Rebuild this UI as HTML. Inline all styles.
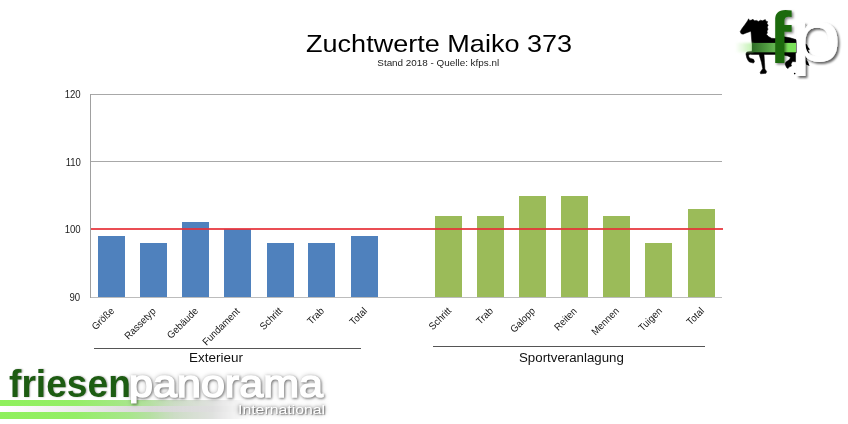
<!DOCTYPE html>
<html lang="de">
<head>
<meta charset="utf-8">
<title>Zuchtwerte Maiko 373</title>
<style>
html,body{margin:0;padding:0;background:#fff;}
body{width:848px;height:424px;position:relative;overflow:hidden;font-family:"Liberation Sans",sans-serif;color:#000;}
div,span{position:absolute;white-space:nowrap;line-height:1;}
.grid{left:90px;width:632px;height:1px;background:#a8a8a8;}
.axis{left:90px;top:94px;width:1px;height:204px;background:#a0a0a0;}
.red{left:91px;top:228px;width:632px;height:2px;background:rgba(230,48,56,.86);}
.yl{left:40px;width:40.5px;text-align:right;font-size:10px;color:#1c1c1c;}
.yl span{position:static;display:inline-block;transform:scaleX(.96);transform-origin:right center;}
.xl{width:100px;height:12px;text-align:right;font-size:10px;color:#151515;transform:rotate(-45deg);transform-origin:right top;}
.xl span{position:static;display:inline-block;transform:scaleX(.95);transform-origin:right center;}
.title{left:305.5px;top:32.3px;font-size:24.6px;transform:scaleX(1.1);transform-origin:left top;}
.sub{left:377.3px;top:57.6px;font-size:9.9px;color:#222;transform:scaleX(1.0);transform-origin:left top;}
.gl{height:1px;background:#555;}
.gt{font-size:12.3px;color:#111;transform:scaleX(1.096);transform-origin:left top;}
.lbar{left:0;top:400px;width:250px;height:19px;-webkit-mask-image:linear-gradient(90deg,#000 0,#000 60%,rgba(0,0,0,.7) 85%,transparent 100%);mask-image:linear-gradient(90deg,#000 0,#000 60%,rgba(0,0,0,.7) 85%,transparent 100%);}
.lbar i{position:absolute;left:0;width:250px;height:6px;}
.lbar .b1{top:0;background:linear-gradient(90deg,#8ff05c 0,#94ee66 30%,#a8e68c 52%,#c6d8be 70%,#d4d4d4 88%);}
.lbar .b2{top:6px;background:linear-gradient(90deg,#fff 0,#ececec 30%,#d8d8d8 60%,#d0d0d0 85%);}
.lbar .b3{top:12px;height:6.5px;background:linear-gradient(90deg,#8ff05c 0,#94ee66 30%,#a8e68c 52%,#c6d8be 70%,#d4d4d4 88%);box-shadow:0 1px 1px rgba(0,0,0,.25);}
.lfr{left:9.2px;top:364px;font-size:42px;font-weight:bold;color:#1d5c12;transform:scale(.885,.93);transform-origin:left top;text-shadow:1px 1px 2px rgba(0,0,0,.35);}
.lpaw{left:0;top:0;width:848px;height:424px;filter:drop-shadow(1.5px 1.5px 1.2px rgba(0,0,0,.42)) drop-shadow(0 0 2px rgba(0,0,0,.25));}
.lpa{left:129.3px;top:364.2px;font-size:42px;color:#fff;-webkit-text-stroke:1.7px #fff;transform:scale(1.026,.94);transform-origin:left top;clip-path:inset(-5px -5px 0.1px -5px);}
.lin{left:237.6px;top:403.3px;font-size:13.2px;color:#fff;transform:scaleX(1.2);transform-origin:left top;text-shadow:1px 1px 1px rgba(0,0,0,.35),0 0 5px rgba(0,0,0,.5),0 0 3px rgba(0,0,0,.4);}
.horse{position:absolute;left:728px;top:0;}
.horse text{font-family:"Liberation Sans",sans-serif;}
</style>
</head>
<body>
<div class="title">Zuchtwerte Maiko 373</div>
<div class="sub">Stand 2018 - Quelle: kfps.nl</div>

<div class="grid" style="top:94px"></div>
<div class="grid" style="top:161px"></div>
<div class="grid" style="top:297px;background:#bcbcbc"></div>
<div class="axis"></div>
<div class="bar" style="left:98px;top:236px;width:27px;height:61px;background:#4f81bd"></div>
<div class="bar" style="left:140px;top:243px;width:27px;height:54px;background:#4f81bd"></div>
<div class="bar" style="left:182px;top:222px;width:27px;height:75px;background:#4f81bd"></div>
<div class="bar" style="left:224px;top:229px;width:27px;height:68px;background:#4f81bd"></div>
<div class="bar" style="left:267px;top:243px;width:27px;height:54px;background:#4f81bd"></div>
<div class="bar" style="left:308px;top:243px;width:27px;height:54px;background:#4f81bd"></div>
<div class="bar" style="left:351px;top:236px;width:27px;height:61px;background:#4f81bd"></div>
<div class="bar" style="left:435px;top:216px;width:27px;height:81px;background:#9bbb59"></div>
<div class="bar" style="left:477px;top:216px;width:27px;height:81px;background:#9bbb59"></div>
<div class="bar" style="left:519px;top:196px;width:27px;height:101px;background:#9bbb59"></div>
<div class="bar" style="left:561px;top:196px;width:27px;height:101px;background:#9bbb59"></div>
<div class="bar" style="left:603px;top:216px;width:27px;height:81px;background:#9bbb59"></div>
<div class="bar" style="left:645px;top:243px;width:27px;height:54px;background:#9bbb59"></div>
<div class="bar" style="left:688px;top:209px;width:27px;height:88px;background:#9bbb59"></div>
<div class="red"></div>

<div class="yl" style="top:90.4px"><span>120</span></div>
<div class="yl" style="top:157.5px"><span>110</span></div>
<div class="yl" style="top:225.4px"><span>100</span></div>
<div class="yl" style="top:293.2px"><span>90</span></div>

<div class="xl" style="left:8.8px;top:305.5px"><span>Größe</span></div>
<div class="xl" style="left:50.9px;top:305.5px"><span>Rassetyp</span></div>
<div class="xl" style="left:93.0px;top:305.5px"><span>Gebäude</span></div>
<div class="xl" style="left:135.2px;top:305.5px"><span>Fundament</span></div>
<div class="xl" style="left:177.3px;top:305.5px"><span>Schritt</span></div>
<div class="xl" style="left:219.4px;top:305.5px"><span>Trab</span></div>
<div class="xl" style="left:261.5px;top:305.5px"><span>Total</span></div>
<div class="xl" style="left:345.8px;top:305.5px"><span>Schritt</span></div>
<div class="xl" style="left:387.9px;top:305.5px"><span>Trab</span></div>
<div class="xl" style="left:430.1px;top:305.5px"><span>Galopp</span></div>
<div class="xl" style="left:472.2px;top:305.5px"><span>Reiten</span></div>
<div class="xl" style="left:514.3px;top:305.5px"><span>Mennen</span></div>
<div class="xl" style="left:556.5px;top:305.5px"><span>Tuigen</span></div>
<div class="xl" style="left:598.6px;top:305.5px"><span>Total</span></div>

<div class="gl" style="left:94px;top:348px;width:267px"></div>
<div class="gt" style="left:189px;top:351.5px">Exterieur</div>
<div class="gl" style="left:433px;top:346px;width:272px"></div>
<div class="gt" style="left:519px;top:351.5px;transform:scaleX(1.08)">Sportveranlagung</div>

<!-- bottom-left logo -->
<div class="lbar"><i class="b1"></i><i class="b2"></i><i class="b3"></i></div>
<div class="lfr">friesen</div>
<div class="lpaw"><div class="lpa">panorama</div></div>
<div class="lin">International</div>

<!-- top-right logo -->
<svg class="horse" width="120" height="90" viewBox="728 0 120 90">
<defs>
<linearGradient id="gb" x1="0" y1="0" x2="1" y2="0">
<stop offset="0" stop-color="#2e6c26"/><stop offset=".6" stop-color="#4f9a40"/><stop offset="1" stop-color="#68bb54"/>
</linearGradient>
<linearGradient id="gg" x1="0" y1="0" x2="1" y2="0">
<stop offset="0" stop-color="#b6f0a0" stop-opacity="0"/><stop offset="1" stop-color="#a8ec90" stop-opacity="1"/>
</linearGradient>
<filter id="bl" x="-20%" y="-40%" width="140%" height="180%"><feGaussianBlur stdDeviation="1"/></filter>
<filter id="sh" x="-30%" y="-30%" width="170%" height="170%"><feDropShadow dx="2" dy="2" stdDeviation="1.2" flood-color="#000" flood-opacity=".6"/></filter>
<filter id="shf" x="-30%" y="-30%" width="170%" height="170%"><feDropShadow dx="1.5" dy="1.5" stdDeviation="1.1" flood-color="#000" flood-opacity=".5"/></filter>
<clipPath id="cf"><rect x="775.2" y="0" width="30" height="70"/></clipPath>
<clipPath id="cp"><rect x="790" y="0" width="58" height="76"/></clipPath>
</defs>
<path fill="#000" stroke="#000" stroke-width=".5" stroke-linejoin="round" d="M740.2,31.6 L742,28.5 L745,24.5 L747.6,20.8 L748.6,18.8 L749.6,20.6 L751.6,20 L753,19.3 L754.4,20.8 L756.5,20.4 L758.5,21.4 L760.5,20.2 L762.5,20.8 L765.3,19.6 L766,21.2 L767.6,21.6 L767,23.6 L768.2,25.2 L767.2,27 L768,29.2 L767,31 L767.4,33 L766.4,34.2 L768.5,36.6 L771.5,38.2 L775,38.6 L784,36.8 L790,37.8 L796,39.6 L797,42 L797,52.9 L795.6,52.9 L795.6,61.8 L792.5,61.5 L791,64 L791.5,66 L789,67 L788,68.6 L786.5,67.5 L785,64 L786,62 L789.5,59.5 L790.5,57.5 L788,56 L784.2,55.2 L784,54.5 L775,54.4 L764,54.4 L764.5,62.4 L764.9,69.1 L766.6,71.4 L766,73.3 L760.6,73.8 L760.2,72.3 L762.7,68.7 L761.5,62.4 L759.1,54.4 L752.1,54.4 L750.3,54.3 L748.5,54.9 L749,57.5 L750.8,58.4 L753.5,59.3 L754.5,61.5 L753.5,63.1 L749.4,62 L748.1,60.6 L746.8,57.9 L745.9,53.9 L746.8,52.1 L749.4,51.5 L752,51 L752,44 L751.5,38 L751,32 L751,31.2 L746,33 L743,34.2 L741,33.6 Z"/>
<path fill="#000" d="M805,43.5 L807,44.5 L808,47 L810,49.5 L808,50 L809.5,53 L807,54 L806.5,60 L808,62 L809.5,66 L806,64.5 L805,62 Z"/>
<rect x="735" y="42.9" width="18" height="9.4" fill="url(#gg)" opacity=".75" filter="url(#bl)"/>
<circle cx="794.7" cy="73.6" r=".8" fill="#000"/>
<rect x="752" y="42.9" width="24" height="9.4" fill="url(#gb)"/>
<rect x="776" y="42.9" width="20" height="9.4" fill="#7be05a"/>
<g filter="url(#shf)"><g clip-path="url(#cf)"><text class="tf" transform="translate(768.2,63.2) scale(.97,1.01)" font-size="72" font-weight="bold" fill="#1f6b10">f</text></g></g>
<g filter="url(#sh)"><g clip-path="url(#cp)"><text class="tp" transform="translate(791,61.3) scale(1.163,.94)" font-size="77" fill="#fff" stroke="#fff" stroke-width="0.8">p</text></g></g>
</svg>

</body>
</html>
